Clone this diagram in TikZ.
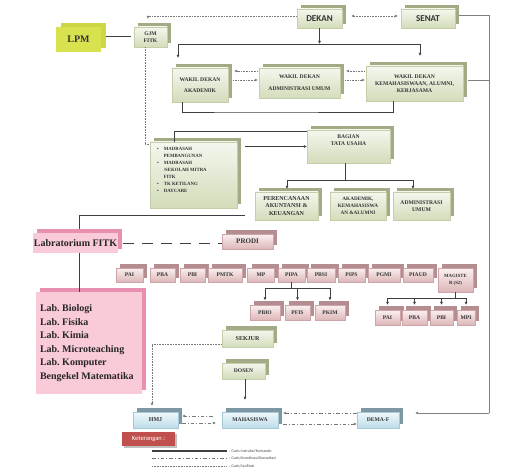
\documentclass[tikz,border=0pt]{standalone}
\usepackage{fontspec}
\setmainfont{Liberation Serif}
\newfontfamily\calib{Carlito}
\usetikzlibrary{shadows,calc,arrows.meta}
\pgfdeclarelayer{bg}
\pgfsetlayers{bg,main}
\definecolor{gtop}{HTML}{F4F7EE}
\definecolor{gbot}{HTML}{D3DCBA}
\definecolor{gline}{HTML}{C4CEA8}
\definecolor{gsh}{HTML}{A2AB85}
\definecolor{ptop}{HTML}{FBF0F0}
\definecolor{pbot}{HTML}{DDB6B8}
\definecolor{pline}{HTML}{CDA4A7}
\definecolor{psh}{HTML}{B38D90}
\definecolor{btop}{HTML}{F0F8FB}
\definecolor{bbot}{HTML}{BCDCEA}
\definecolor{bline}{HTML}{A9C8D6}
\definecolor{bsh}{HTML}{7E97A4}
\definecolor{lpmf}{HTML}{D8E24F}
\definecolor{lpms}{HTML}{CCD743}
\definecolor{labf}{HTML}{F9CAD8}
\definecolor{labs}{HTML}{E98FB0}
\definecolor{ketf}{HTML}{C0504D}
\definecolor{lncol}{HTML}{3F3F3F}
\definecolor{dotcol}{HTML}{7A7A7A}
\definecolor{txtc}{HTML}{333333}
\tikzset{
  wh/.style 2 args={minimum width=#1pt, minimum height=#2pt},
  bx/.style={inner sep=0.5pt, align=center, text=txtc, font=\bfseries\fontsize{5.6}{7}\selectfont},
  gbox/.style={bx, top color=gtop, bottom color=gbot, draw=gline, line width=0.4pt,
     copy shadow={shadow xshift=4pt, shadow yshift=4pt, fill=gsh, draw=none}},
  pbox/.style={bx, top color=ptop, bottom color=pbot, draw=pline, line width=0.4pt,
     copy shadow={shadow xshift=4pt, shadow yshift=4pt, fill=psh, draw=none}},
  bbox/.style={bx, top color=btop, bottom color=bbot, draw=bline, line width=0.4pt,
     copy shadow={shadow xshift=4pt, shadow yshift=4pt, fill=bsh, draw=none}},
  lpmbox/.style={bx, fill=lpmf, draw=none, font=\bfseries\fontsize{10}{12}\selectfont,
     copy shadow={shadow xshift=5pt, shadow yshift=4pt, fill=lpms, draw=none}},
  labbox/.style={bx, fill=labf, draw=none, text=black!85, font=\bfseries\fontsize{10}{13.5}\selectfont,
     copy shadow={shadow xshift=4pt, shadow yshift=4pt, fill=labs, draw=none}},
  cmd/.style={draw=lncol, line width=0.9pt},
  cmdt/.style={draw=lncol, line width=0.7pt},
  thinl/.style={draw=black!50, line width=0.7pt},
  fac/.style={draw=dotcol, line width=0.8pt, dash pattern=on 0.9pt off 0.7pt},
  coo/.style={draw=dotcol, line width=0.7pt, dash pattern=on 3.5pt off 2pt on 1pt off 2pt},
  lnk/.style={draw=lncol, line width=1pt, dash pattern=on 11pt off 8pt},
  arw/.style={-{Latex[length=3pt,width=3pt]}},
  darw/.style={{Latex[length=3pt,width=3pt]}-{Latex[length=3pt,width=3pt]}},
  lgtxt/.style={inner sep=0pt, anchor=west, text=black!70, font=\calib\fontsize{4}{5}\selectfont},
}
\begin{document}
\begin{tikzpicture}[x=1pt,y=-1pt]
\fill[white] (0,0) rectangle (509,476);
\useasboundingbox (0,0) rectangle (509,476);

% ---------- nodes ----------
\node[lpmbox, wh={45}{25}] (LPM) at (78.5,39.5) {LPM};
\node[gbox, wh={33}{20}] (GJM) at (150.5,37) {GJM\\FITK};
\node[gbox, wh={45}{19}, font=\calib\bfseries\fontsize{9}{10}\selectfont] (DEKAN) at (319.5,18.5) {DEKAN};
\node[gbox, wh={54}{19}, font=\calib\bfseries\fontsize{9}{10}\selectfont] (SENAT) at (428,18.5) {SENAT};

\node[gbox, wh={56}{34}] (WDA) at (200,85) {WAKIL DEKAN\\[4pt]AKADEMIK};
\node[gbox, wh={81}{30}] (WDU) at (299.5,83) {WAKIL DEKAN\\[5pt]ADMINISTRASI UMUM};
\node[gbox, wh={97}{35}] (WDK) at (414.5,83.5) {WAKIL DEKAN\\KEMAHASISWAAN, ALUMNI,\\KERJASAMA};

\node[gbox, wh={87}{66}] (MAD) at (193.5,175) {};
\node[anchor=north west, inner sep=0pt, text=txtc, font=\bfseries\fontsize{4.8}{7}\selectfont] (MADT) at (157,145)
  {\begin{tabular}{@{}l@{\hspace{5pt}}l@{}}
   \textbullet & MADRASAH\\ & PEMBANGUNAN\\
   \textbullet & MADRASAH\\ & /SEKOLAH MITRA\\ & FITK\\
   \textbullet & TK KETILANG\\
   \textbullet & DAYCARE
   \end{tabular}};

\node[gbox, wh={83}{33}] (BTU) at (348.5,146.5) {BAGIAN\\TATA USAHA\\[6pt]};
\node[gbox, wh={63}{28}, font=\bfseries\fontsize{6}{7.5}\selectfont] (PAK) at (286.5,206) {PERENCANAAN\\AKUNTANSI \&\\KEUANGAN};
\node[gbox, wh={56}{28}, font=\bfseries\fontsize{5.2}{7}\selectfont] (AKA) at (358,206) {AKADEMIK,\\KEMAHASISWA\\AN \&ALUMNI};
\node[gbox, wh={57}{28}] (ADM) at (421.5,206) {ADMINISTRASI\\UMUM};

\node[labbox, wh={85}{20}] (LAB) at (75.5,243) {Labratorium FITK};
\node[pbox, wh={51}{15}, font=\bfseries\fontsize{7}{8}\selectfont] (PRODI) at (247.5,241.5) {PRODI};

\node[pbox, wh={27}{14}] (PAIa) at (129.5,275) {PAI};
\node[pbox, wh={25}{14}] (PBAa) at (162.5,275) {PBA};
\node[pbox, wh={25}{14}] (PBIa) at (192.5,275) {PBI};
\node[pbox, wh={34}{14}] (PMTK) at (225,275) {PMTK};
\node[pbox, wh={27}{14}] (MP) at (261,275) {MP};
\node[pbox, wh={27}{14}] (PIPA) at (291.5,275) {PIPA};
\node[pbox, wh={28}{14}] (PBSI) at (321,275) {PBSI};
\node[pbox, wh={27}{14}] (PIPS) at (351.5,275) {PIPS};
\node[pbox, wh={32}{14}] (PGMI) at (384,275) {PGMI};
\node[pbox, wh={30}{14}] (PIAUD) at (418,275) {PIAUD};
\node[pbox, wh={35}{24}, font=\bfseries\fontsize{4.8}{6.5}\selectfont] (MAG) at (455.5,280) {MAGISTE\\R (S2)};

\node[pbox, wh={30}{15}] (PBIO) at (265,312.5) {PBIO};
\node[pbox, wh={25}{15}] (PFIS) at (297.5,312.5) {PFIS};
\node[pbox, wh={30}{15}] (PKIM) at (330,312.5) {PKIM};

\node[pbox, wh={25}{15}] (PAIb) at (387.5,317.5) {PAI};
\node[pbox, wh={25}{15}] (PBAb) at (414.5,317.5) {PBA};
\node[pbox, wh={23}{15}] (PBIb) at (441.5,317.5) {PBI};
\node[pbox, wh={18}{15}] (MPI) at (466,317.5) {MPI};

\node[labbox, wh={106}{102}, align=flush left, text width=98pt, inner xsep=4pt] (LL) at (89,343)
  {Lab.\ Biologi\\Lab.\ Fisika\\Lab.\ Kimia\\Lab.\ Microteaching\\Lab.\ Komputer\\Bengekel Matematika};

\node[gbox, wh={51}{17}, font=\bfseries\fontsize{6}{7}\selectfont] (SEKJUR) at (247.5,338.5) {SEKJUR};
\node[gbox, wh={43}{16}] (DOSEN) at (243.5,371) {DOSEN};
\node[bbox, wh={56}{16}] (MAH) at (250,420) {MAHASISWA};
\node[bbox, wh={45}{16}, font=\bfseries\fontsize{6}{7}\selectfont] (HMJ) at (155.5,420) {HMJ};
\node[bbox, wh={42}{16}] (DEMA) at (378,420) {DEMA-F};

\node[fill=ketf, draw=none, wh={53}{14}, inner sep=0pt, text=white, font=\calib\fontsize{6.5}{7}\selectfont,
      copy shadow={shadow xshift=1.5pt, shadow yshift=-1.5pt, fill=black!25, draw=none}] (KET) at (148.5,439) {Keterangan :};

% ---------- coordinates ----------
\coordinate (vt) at (245,112);
\coordinate (v215) at (245,215);
\coordinate (wl) at (178,44);
\coordinate (wr) at (420,44);
\coordinate (r1) at (489,15);
\coordinate (r2) at (489,413);
\coordinate (r3) at (489,80);
\coordinate (t1) at (287,180);
\coordinate (t2) at (413,180);
\coordinate (pb) at (0,288);
\coordinate (mb) at (0,298);
\path ($(BTU.south)+(-3.5,0)$) coordinate (bs);
\path ($(LAB.south)+(3.5,0)$) coordinate (ls);

% ---------- background connectors ----------
\begin{pgfonlayer}{bg}
\draw[cmd] (vt) -- (vt |- SEKJUR.north);
\draw[cmd] (vt |- SEKJUR.south) -- (vt |- DOSEN.north);
\end{pgfonlayer}

% ---------- connectors ----------
\draw[fac,darw] ($(DEKAN.east)+(9,-2.5)$) -- ($(SENAT.west)+(-3,-2.5)$);
\draw[fac,arw] ($(DEKAN.west)+(0,-2.5)$) -| ($(GJM.north)+(-2.5,-8)$);
\draw[cmd] ($(LPM.east)+(5,-3.5)$) -- ($(GJM.west)+(-3,-1)$);
\draw[fac] ($(GJM.south)+(-5.5,0)$) |- ($(MAD.north west)+(0,3)$);

\draw[cmd] (wl) -- (wr);
\draw[cmd,arw] (DEKAN.south) -- (DEKAN.south |- wl);
\draw[cmd,arw,shorten >=10pt] (wl) -- (wl |- WDA.north);
\draw[cmd,arw,shorten >=10pt] (wr) -- (wr |- WDK.north);

\draw[fac,arw] ($(WDU.west)+(-1,-12)$) -- ($(WDA.east)+(6,-14)$);
\draw[fac,arw] ($(WDA.east)+(5,-5)$) -- ($(WDU.west)+(-1,-3)$);
\draw[fac,arw] ($(WDK.west)+(-1,-12.5)$) -- ($(WDU.east)+(6,-12)$);
\draw[fac,arw] ($(WDU.east)+(5,-3)$) -- ($(WDK.west)+(-1,-3.5)$);

\draw[thinl] ($(SENAT.east)+(4,-3.5)$) -- (r1) -- (r2);
\draw[thinl,arw] (r2) -- ($(DEMA.east)+(16,-7)$);
\draw[thinl] ($(WDK.east)+(5,-3.5)$) -- (r3);

\draw[cmd] ($(WDA.south)+(-18,0)$) |- (vt) -| ($(WDK.south)+(-21.5,0)$);

\draw[cmd,arw] (vt |- BTU.west) -- (BTU.west);
\draw[cmd] ($(BTU.north west)+(0,2)$) -| ($(MAD.north west)+(25,0)$);
\draw[cmd] (bs) -- (bs |- t1);
\draw[cmd] (t1) -- (t2);
\draw[cmd,arw,shorten >=3pt] (t1) -- (t1 |- PAK.north);
\draw[cmd,arw,shorten >=3pt] (t2) -- (t2 |- ADM.north);

\draw[cmd] (v215) -| ($(LAB.north)+(3.5,-4)$);
\draw[cmd] (ls) -- (ls |- LL.north);
\draw[lnk] ($(LAB.east)+(5,0)$) -- (PRODI.west |- LAB.east);

\draw[cmdt] (PIPA.south) -- (PIPA.south |- pb);
\draw[cmdt] (PBIO.north |- pb) -- (PKIM.north |- pb);
\foreach \n in {PBIO,PFIS,PKIM} \draw[cmdt,arw,shorten >=4.5pt] (\n.north |- pb) -- (\n.north);

\draw[cmdt] (MAG.south) -- (MAG.south |- mb);
\draw[cmdt] (PAIb.north |- mb) -- (MPI.north |- mb);
\foreach \n in {PAIb,PBAb,PBIb,MPI} \draw[cmdt,arw,shorten >=5pt] (\n.north |- mb) -- (\n.north);

\draw[cmd,arw,shorten >=12pt] (vt |- DOSEN.south) -- (vt |- MAH.north);

\draw[fac,arw] ($(SEKJUR.west)+(0,5.5)$) -| ($(HMJ.north)+(-3.5,-6)$);
\draw[coo,arw] ($(MAH.west)+(-9,-4)$) -- ($(HMJ.east)+(4,-4)$);
\draw[coo,arw] ($(HMJ.east)+(4,3)$) -- ($(MAH.west)+(-6,3)$);
\draw[coo,arw] ($(DEMA.west)+(0,-7)$) -- ($(MAH.east)+(5,-7)$);
\draw[coo,arw] ($(MAH.east)+(5,4)$) -- ($(DEMA.west)+(0,4)$);

% ---------- legend ----------
\coordinate (g1) at (152,451); \coordinate (g2) at (227,451);
\coordinate (g3) at (152,458); \coordinate (g4) at (227,458);
\coordinate (g5) at (152,466); \coordinate (g6) at (227,466);
\draw[cmd, line width=1.2pt] (g1) -- (g2);
\draw[coo] (g3) -- (g4);
\draw[fac] (g5) -- (g6);
\node[lgtxt] (L1) at (229,451) {: Garis Instruksi/Komando};
\node[lgtxt] (L2) at (229,458) {: Garis Koordinasi/Konsultasi};
\node[lgtxt] (L3) at (229,466) {: Garis Fasilitasi};
\end{tikzpicture}
\end{document}
